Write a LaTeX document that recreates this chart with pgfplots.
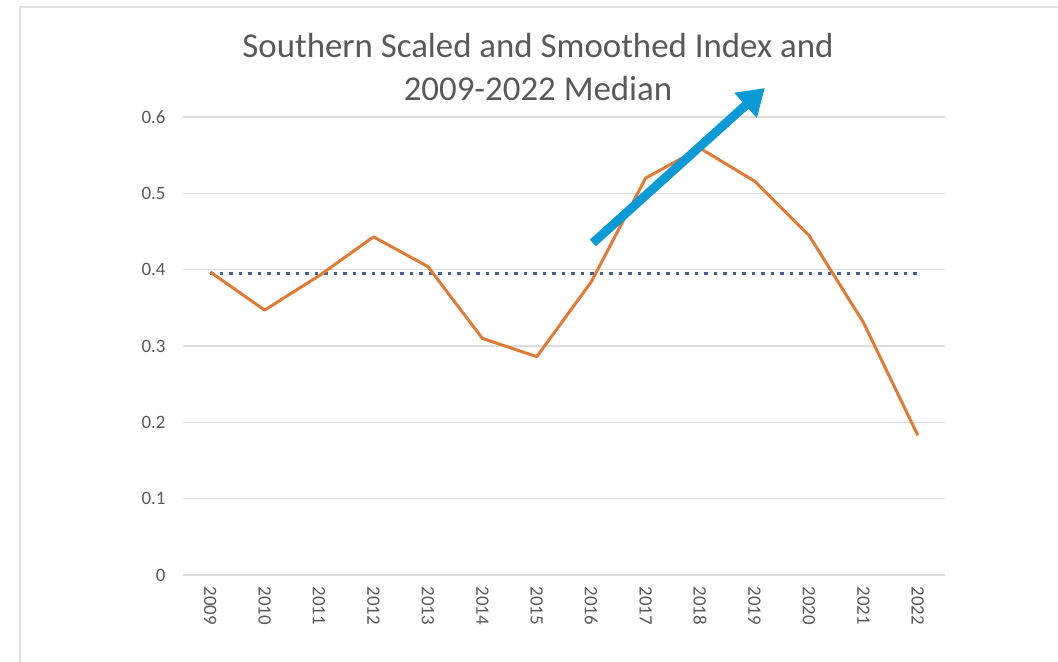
\documentclass[border=0pt]{standalone}
\usepackage{pgfplots}
\pgfplotsset{compat=1.18}
\usepackage{fontspec}
\setmainfont{Carlito}
\usetikzlibrary{arrows.meta}
\definecolor{lineorange}{HTML}{E07A35}
\definecolor{medblue}{HTML}{44618F}
\definecolor{arrowblue}{HTML}{0C9AD6}
\definecolor{gridgray}{HTML}{DDDDDD}
\definecolor{txtgray}{HTML}{595959}
\begin{document}
\begin{tikzpicture}[x=1bp,y=1bp]
\path[use as bounding box] (-183,-87) rectangle (875,575);
\draw[gray!25, line width=1.2bp] (-163,-87) -- (-163,568) -- (875,568);
\begin{axis}[
  at={(0,0)}, anchor=south west,
  scale only axis, width=762bp, height=458bp,
  xmin=-0.5, xmax=13.5, ymin=0, ymax=0.6,
  xtick={0,...,13},
  xticklabels={2009,2010,2011,2012,2013,2014,2015,2016,2017,2018,2019,2020,2021,2022},
  ytick={0,0.1,0.2,0.3,0.4,0.5,0.6},
  yticklabels={0,0.1,0.2,0.3,0.4,0.5,0.6},
  major tick length=0pt,
  axis line style={draw=none},
  ymajorgrids, grid style={gridgray, line width=1.2bp},
  xticklabel style={rotate=-90, anchor=west, font=\fontsize{19}{19}\selectfont, text=txtgray, xshift=8bp},
  yticklabel style={anchor=east, font=\fontsize{19}{19}\selectfont, text=txtgray, xshift=-14bp},
  /pgf/number format/assume math mode=true,
  clip=false,
]
\addplot[draw=medblue, line width=3bp, dash pattern=on 3.5bp off 6bp] coordinates {
(0,0.395) (13,0.395)};
\addplot[draw=lineorange, line width=3bp, line join=round] coordinates {
(0,0.397) (1,0.347) (2,0.392) (3,0.443) (4,0.404) (5,0.310) (6,0.286)
(7,0.384) (8,0.520) (9,0.559) (10,0.516) (11,0.445) (12,0.331) (13,0.183)};
\draw[arrowblue, line width=9bp, -{Triangle[length=26bp,width=32bp]}] (axis cs:7.03,0.435) -- (axis cs:10.19,0.638);
\end{axis}
\node[align=center, text=txtgray, font=\fontsize{35}{43}\selectfont] at (355,508) {Southern Scaled and Smoothed Index and\\2009-2022 Median};
\end{tikzpicture}
\end{document}
